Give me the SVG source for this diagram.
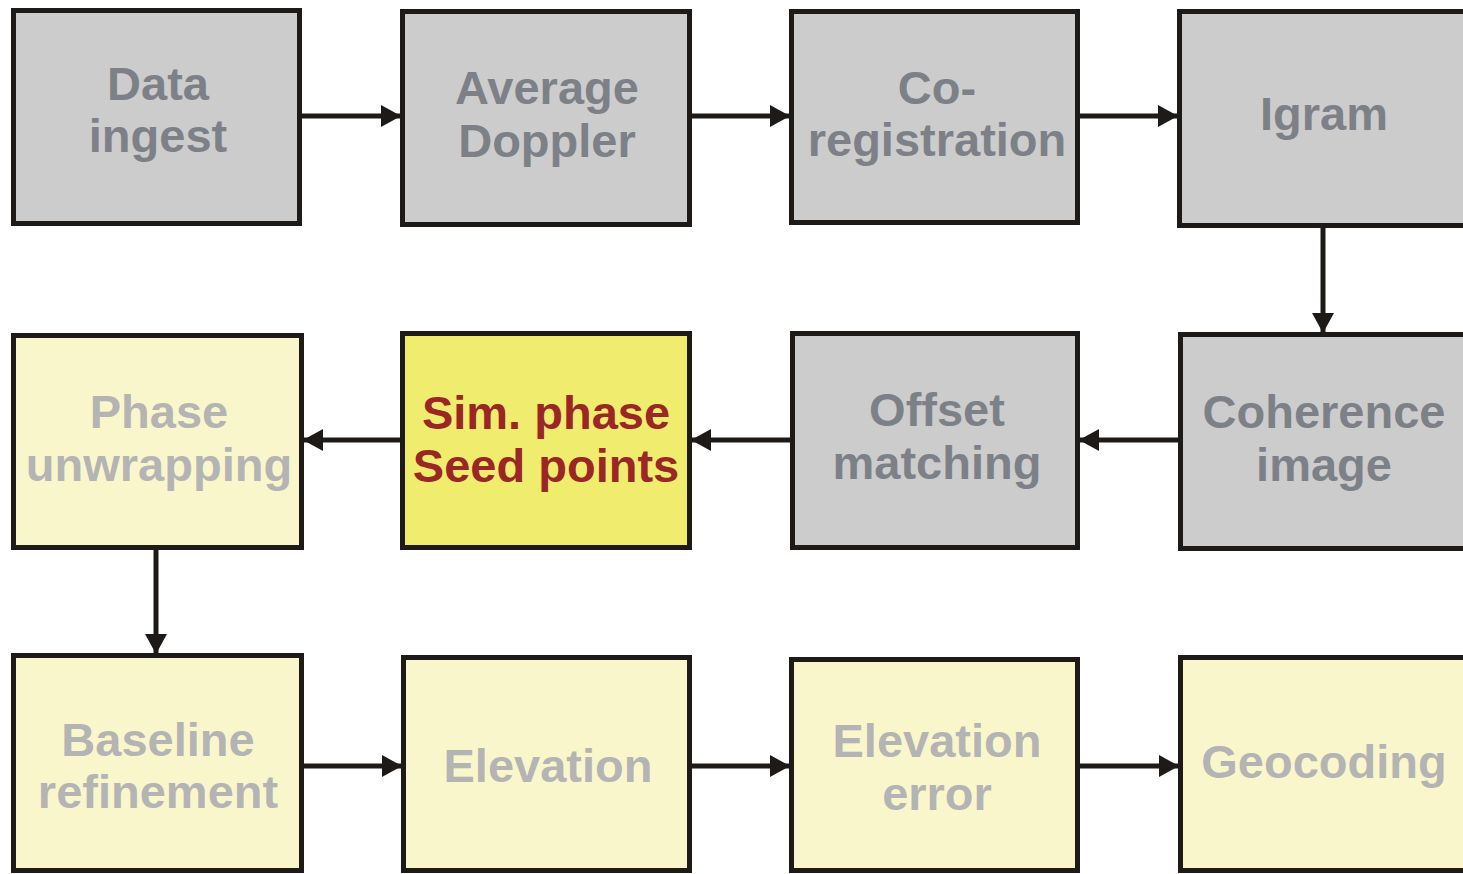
<svg xmlns="http://www.w3.org/2000/svg" width="1463" height="874" viewBox="0 0 1463 874">
<defs>
<style>
.box{stroke:#1e1a17;stroke-width:5}
.g{fill:#cccccd}
.p{fill:#faf6cc}
.y{fill:#f0ec6e}
text{font-family:"Liberation Sans",Arial,sans-serif;font-weight:bold;font-size:47px;text-anchor:middle}
.tg{fill:#7d8187}
.tp{fill:#b4b4b4}
.ty{fill:#9b2626}
.c{stroke:#1e1a17;stroke-width:5;fill:none}
</style>
<marker id="ah" markerWidth="20" markerHeight="22" refX="19" refY="11" orient="auto" markerUnits="userSpaceOnUse">
<path d="M0,0 L20,11 L0,22 Z" fill="#1e1a17"/>
</marker>
</defs>
<rect width="1463" height="874" fill="#ffffff"/>
<g id="connectors">
<line class="c" x1="302" y1="116" x2="400" y2="116" marker-end="url(#ah)"/>
<line class="c" x1="692" y1="116" x2="789" y2="116" marker-end="url(#ah)"/>
<line class="c" x1="1080" y1="116" x2="1177" y2="116" marker-end="url(#ah)"/>
<line class="c" x1="1323" y1="228" x2="1323" y2="332" marker-end="url(#ah)"/>
<line class="c" x1="1178" y1="440" x2="1080" y2="440" marker-end="url(#ah)"/>
<line class="c" x1="790" y1="440" x2="692" y2="440" marker-end="url(#ah)"/>
<line class="c" x1="400" y1="440" x2="304" y2="440" marker-end="url(#ah)"/>
<line class="c" x1="156" y1="550" x2="156" y2="653" marker-end="url(#ah)"/>
<line class="c" x1="304" y1="766" x2="401" y2="766" marker-end="url(#ah)"/>
<line class="c" x1="692" y1="766" x2="789" y2="766" marker-end="url(#ah)"/>
<line class="c" x1="1080" y1="766" x2="1178" y2="766" marker-end="url(#ah)"/>
</g>
<g id="data-ingest"><rect class="box g" x="13.5" y="10.5" width="286" height="213"/><text class="tg" x="158" y="100">Data</text><text class="tg" x="158" y="152">ingest</text></g>
<g id="average-doppler"><rect class="box g" x="402.5" y="11.5" width="287" height="213"/><text class="tg" x="547" y="104">Average</text><text class="tg" x="547" y="157">Doppler</text></g>
<g id="co-registration"><rect class="box g" x="791.5" y="11.5" width="286" height="211"/><text class="tg" x="937" y="104">Co-</text><text class="tg" x="937" y="156">registration</text></g>
<g id="igram"><rect class="box g" x="1179.5" y="11.5" width="290" height="214"/><text class="tg" x="1324" y="130">Igram</text></g>
<g id="coherence-image"><rect class="box g" x="1180.5" y="334.5" width="290" height="214"/><text class="tg" x="1324" y="428">Coherence</text><text class="tg" x="1324" y="481">image</text></g>
<g id="offset-matching"><rect class="box g" x="792.5" y="333.5" width="285" height="214"/><text class="tg" x="937" y="426">Offset</text><text class="tg" x="937" y="479">matching</text></g>
<g id="sim-phase"><rect class="box y" x="402.5" y="333.5" width="287" height="214"/><text class="ty" x="546" y="429">Sim. phase</text><text class="ty" x="546" y="482">Seed points</text></g>
<g id="phase-unwrapping"><rect class="box p" x="13.5" y="335.5" width="288" height="212"/><text class="tp" x="159" y="428">Phase</text><text class="tp" x="159" y="481">unwrapping</text></g>
<g id="baseline-refinement"><rect class="box p" x="13.5" y="655.5" width="288" height="215"/><text class="tp" x="158" y="756">Baseline</text><text class="tp" x="158" y="808">refinement</text></g>
<g id="elevation"><rect class="box p" x="403.5" y="657.5" width="286" height="213"/><text class="tp" x="548" y="782">Elevation</text></g>
<g id="elevation-error"><rect class="box p" x="791.5" y="659.5" width="286" height="211"/><text class="tp" x="937" y="757">Elevation</text><text class="tp" x="937" y="810">error</text></g>
<g id="geocoding"><rect class="box p" x="1180.5" y="657.5" width="290" height="213"/><text class="tp" x="1324" y="778">Geocoding</text></g>
</svg>
